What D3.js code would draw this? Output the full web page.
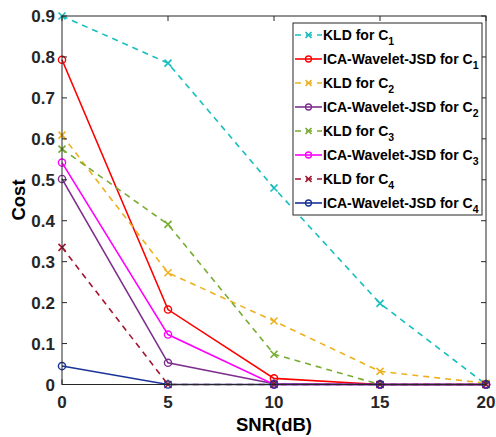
<!DOCTYPE html>
<html>
<head>
<meta charset="utf-8">
<script src="https://cdn.jsdelivr.net/npm/d3@7/dist/d3.min.js"></script>
<style>
  html, body { margin: 0; padding: 0; background: #fff; }
  svg { display: block; font-family: "Liberation Sans", Arial, sans-serif; }
</style>
</head>
<body>
<svg id="chart" width="496" height="437"></svg>
<script>
// SNR levels (dB) on the x axis
const snr = [0, 5, 10, 15, 20];
const xTicks = [0, 5, 10, 15, 20];
const yTicks = [0, 0.1, 0.2, 0.3, 0.4, 0.5, 0.6, 0.7, 0.8, 0.9];

// Cost per SNR for each method and class
const kldC1 = [0.9, 0.785, 0.48, 0.198, 0.0];
const icaC1 = [0.793, 0.183, 0.015, 0.0, 0.0];
const kldC2 = [0.609, 0.273, 0.155, 0.032, 0.003];
const icaC2 = [0.502, 0.053, 0.002, 0.0, 0.0];
const kldC3 = [0.575, 0.391, 0.074, 0.0, 0.0];
const icaC3 = [0.542, 0.122, 0.0, 0.0, 0.0];
const kldC4 = [0.335, 0.0, 0.0, 0.0, 0.0];
const icaC4 = [0.045, 0.0, 0.0, 0.0, 0.0];

const seriesNames = ["KLD for C", "ICA-Wavelet-JSD for C", "KLD for C", "ICA-Wavelet-JSD for C",
                     "KLD for C", "ICA-Wavelet-JSD for C", "KLD for C", "ICA-Wavelet-JSD for C"];
const seriesSubs = ["1", "1", "2", "2", "3", "3", "4", "4"];
const seriesColors = ["#17bebe", "#ff0000", "#edb120", "#7e2f8e", "#77ac30", "#ff00ff", "#a2142f", "#1a3399"];
const seriesData = [kldC1, icaC1, kldC2, icaC2, kldC3, icaC3, kldC4, icaC4];

const series = seriesData.map((vals, i) => ({
  label: seriesNames[i], sub: seriesSubs[i], color: seriesColors[i],
  dashed: i % 2 === 0, values: vals
}));

const svg = d3.select("#chart");
const L = 62, R = 486, T = 16, B = 384.5;

const x = d3.scaleLinear().domain([0, 20]).range([L, R]);
const y = d3.scaleLinear().domain([0, 0.9]).range([B, T]);
const axisColor = "#262626";

// Series lines and markers, later series drawn on top
const line = d3.line().x((d, i) => x(snr[i])).y(d => y(d));

series.forEach(s => {
  const g = svg.append("g");
  g.append("path")
    .attr("d", line(s.values))
    .attr("fill", "none")
    .attr("stroke", s.color)
    .attr("stroke-width", 1.6)
    .attr("stroke-dasharray", s.dashed ? "6,5" : null);
  s.values.forEach((v, j) => {
    const cx = x(snr[j]), cy = y(v);
    if (s.dashed) {
      g.append("path")
        .attr("d", `M${cx - 3.5},${cy - 3.5}L${cx + 3.5},${cy + 3.5}M${cx - 3.5},${cy + 3.5}L${cx + 3.5},${cy - 3.5}`)
        .attr("stroke", s.color).attr("stroke-width", 1.6);
    } else {
      g.append("circle").attr("cx", cx).attr("cy", cy).attr("r", 3.6)
        .attr("fill", "none").attr("stroke", s.color).attr("stroke-width", 1.4);
    }
  });
});

// Axes box with inward ticks on all four sides
const tickLen = 5;
const box = svg.append("g").attr("stroke", axisColor).attr("stroke-width", 1).attr("fill", "none");
box.append("rect").attr("x", L).attr("y", T).attr("width", R - L).attr("height", B - T);
xTicks.forEach(t => {
  box.append("line").attr("x1", x(t)).attr("x2", x(t)).attr("y1", B).attr("y2", B - tickLen);
  box.append("line").attr("x1", x(t)).attr("x2", x(t)).attr("y1", T).attr("y2", T + tickLen);
});
yTicks.forEach(t => {
  box.append("line").attr("x1", L).attr("x2", L + tickLen).attr("y1", y(t)).attr("y2", y(t));
  box.append("line").attr("x1", R).attr("x2", R - tickLen).attr("y1", y(t)).attr("y2", y(t));
});

// Tick labels
svg.append("g").selectAll("text").data(xTicks).join("text")
  .attr("x", d => x(d)).attr("y", 408)
  .attr("text-anchor", "middle")
  .attr("font-size", 17).attr("font-weight", "bold").attr("fill", axisColor)
  .text(d => d);
svg.append("g").selectAll("text").data(yTicks).join("text")
  .attr("x", 55).attr("y", d => y(d)).attr("dy", "0.36em")
  .attr("text-anchor", "end")
  .attr("font-size", 17).attr("font-weight", "bold").attr("fill", axisColor)
  .text(d => d === 0 ? "0" : d3.format(".1f")(d));

// Axis titles
svg.append("text").attr("x", 274).attr("y", 431)
  .attr("text-anchor", "middle").attr("font-size", 18.5).attr("font-weight", "bold").attr("fill", "#000")
  .text("SNR(dB)");
svg.append("text").attr("transform", "translate(25,200) rotate(-90)")
  .attr("text-anchor", "middle").attr("font-size", 18.5).attr("font-weight", "bold").attr("fill", "#000")
  .text("Cost");

// Legend
const lgX = 293, lgY = 23, lgW = 189, lgH = 192, rowH = 24;
const lg = svg.append("g");
lg.append("rect").attr("x", lgX).attr("y", lgY).attr("width", lgW).attr("height", lgH)
  .attr("fill", "#fff").attr("stroke", axisColor).attr("stroke-width", 1);
series.forEach((s, i) => {
  const cy = lgY + 12 + i * rowH;
  const row = lg.append("g");
  row.append("line").attr("x1", 295).attr("x2", 322).attr("y1", cy).attr("y2", cy)
    .attr("stroke", s.color).attr("stroke-width", 1.6)
    .attr("stroke-dasharray", s.dashed ? "6,5" : null);
  const mx = 308.5;
  if (s.dashed) {
    row.append("path")
      .attr("d", `M${mx - 3},${cy - 3}L${mx + 3},${cy + 3}M${mx - 3},${cy + 3}L${mx + 3},${cy - 3}`)
      .attr("stroke", s.color).attr("stroke-width", 1.6);
  } else {
    row.append("circle").attr("cx", mx).attr("cy", cy).attr("r", 3)
      .attr("fill", "none").attr("stroke", s.color).attr("stroke-width", 1.3);
  }
  const t = row.append("text").attr("x", 323).attr("y", cy + 4.5)
    .attr("font-size", 14).attr("font-weight", "bold").attr("fill", "#000");
  t.append("tspan").text(s.label);
  t.append("tspan").attr("font-size", 10.5).attr("dy", 5.5).text(s.sub);
});
</script>
</body>
</html>
